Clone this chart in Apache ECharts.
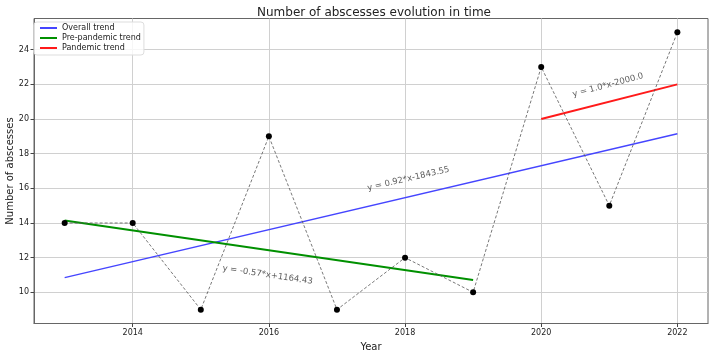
<!DOCTYPE html>
<html>
<head>
<meta charset="utf-8">
<script src="https://cdn.jsdelivr.net/npm/echarts@6/dist/echarts.min.js"></script>
<style>
  html, body { margin: 0; padding: 0; background: #fff; }
  #chart { width: 711px; height: 354px; }
</style>
</head>
<body>
<div id="chart"></div>
<script>
// observed counts per year
const years = [2013, 2014, 2015, 2016, 2017, 2018, 2019, 2020, 2021, 2022];
const abscesses = [14, 14, 9, 19, 9, 12, 10, 23, 15, 25];

// fitted trend endpoints
const overallYears = [2013, 2022];
const overallValues = [10.85, 19.15];
const preYears = [2013, 2019];
const preValues = [14.14, 10.71];
const pandemicYears = [2020, 2022];
const pandemicValues = [20, 22];

const xTicks = [2014, 2016, 2018, 2020, 2022];
const yTicks = [10, 12, 14, 16, 18, 20, 22, 24];

// equation labels: [year, value, text, rotation]
const equations = [
  [2018.05, 16.55, "y = 0.92*x-1843.55", 13],
  [2015.98, 11.0, "y = -0.57*x+1164.43", -8.5],
  [2020.98, 21.95, "y = 1.0*x-2000.0", 15],
];

const font = "DejaVu Sans";
const chart = echarts.init(document.getElementById("chart"));

const pairs = (xs, ys) => xs.map((x, i) => [x, ys[i]]);

chart.setOption({
  animation: false,
  title: {
    text: "Number of abscesses evolution in time",
    left: 252, top: 2,
    textStyle: { fontFamily: font, fontSize: 12, fontWeight: "normal", color: "#222" },
  },
  grid: {
    left: 34, right: 3, top: 18.5, bottom: 30.5,
    outerBoundsMode: "none",
    show: true, borderColor: "#666", borderWidth: 1,
  },
  legend: {
    orient: "vertical", left: 34, top: 22,
    padding: [2, 3, 3, 6], itemGap: 2,
    itemWidth: 17, itemHeight: 2, icon: "rect",
    borderColor: "#ddd", borderWidth: 1, borderRadius: 3,
    backgroundColor: "rgba(255,255,255,0.8)",
    textStyle: { fontFamily: font, fontSize: 8, color: "#222" },
    data: ["Overall trend", "Pre-pandemic trend", "Pandemic trend"],
  },
  xAxis: {
    type: "value", min: 2012.55, max: 2022.45,
    name: "Year", nameLocation: "middle", nameGap: 19, nameMoveOverlap: false,
    nameTextStyle: { fontFamily: font, fontSize: 10, color: "#222" },
    axisLine: { show: true, lineStyle: { color: "#666" } },
    axisTick: { show: true, length: 3.5, customValues: xTicks, lineStyle: { color: "#444" } },
    axisLabel: {
      customValues: xTicks, formatter: (v) => String(v),
      fontFamily: font, fontSize: 8, color: "#222", margin: 5,
    },
    splitLine: { show: true, lineStyle: { color: "#d0d0d0", width: 1 } },
  },
  yAxis: {
    type: "value", min: 8.2, max: 25.8,
    name: "Number of abscesses", nameLocation: "middle", nameGap: 19, nameMoveOverlap: false,
    nameTextStyle: { fontFamily: font, fontSize: 10, color: "#222" },
    axisLine: { show: true, lineStyle: { color: "#666" } },
    axisTick: { show: true, length: 3.5, customValues: yTicks, lineStyle: { color: "#444" } },
    axisLabel: {
      customValues: yTicks, formatter: (v) => String(v),
      fontFamily: font, fontSize: 8, color: "#222", margin: 5,
    },
    splitLine: { show: true, lineStyle: { color: "#d0d0d0", width: 1 } },
  },
  series: [
    {
      name: "Overall trend", type: "line", data: pairs(overallYears, overallValues),
      showSymbol: false, color: "#4545ff", lineStyle: { width: 1.4 }, z: 3,
    },
    {
      name: "Pre-pandemic trend", type: "line", data: pairs(preYears, preValues),
      showSymbol: false, color: "#009000", lineStyle: { width: 2 }, z: 3,
    },
    {
      name: "Pandemic trend", type: "line", data: pairs(pandemicYears, pandemicValues),
      showSymbol: false, color: "#ff1a1a", lineStyle: { width: 2 }, z: 3,
    },
    {
      name: "Observed", type: "line", data: pairs(years, abscesses),
      symbol: "circle", symbolSize: 6, showAllSymbol: true,
      itemStyle: { color: "#000" },
      lineStyle: { color: "#555", width: 0.8, type: [3, 2] }, z: 4,
    },
    {
      name: "Equations", type: "scatter", symbolSize: 0,
      data: equations.map((e) => ({
        value: [e[0], e[1]],
        label: {
          show: true, position: "inside", formatter: e[2], rotate: e[3],
          fontFamily: font, fontSize: 8.5, color: "#333",
        },
      })),
      z: 5, silent: true,
    },
  ],
});
</script>
</body>
</html>
